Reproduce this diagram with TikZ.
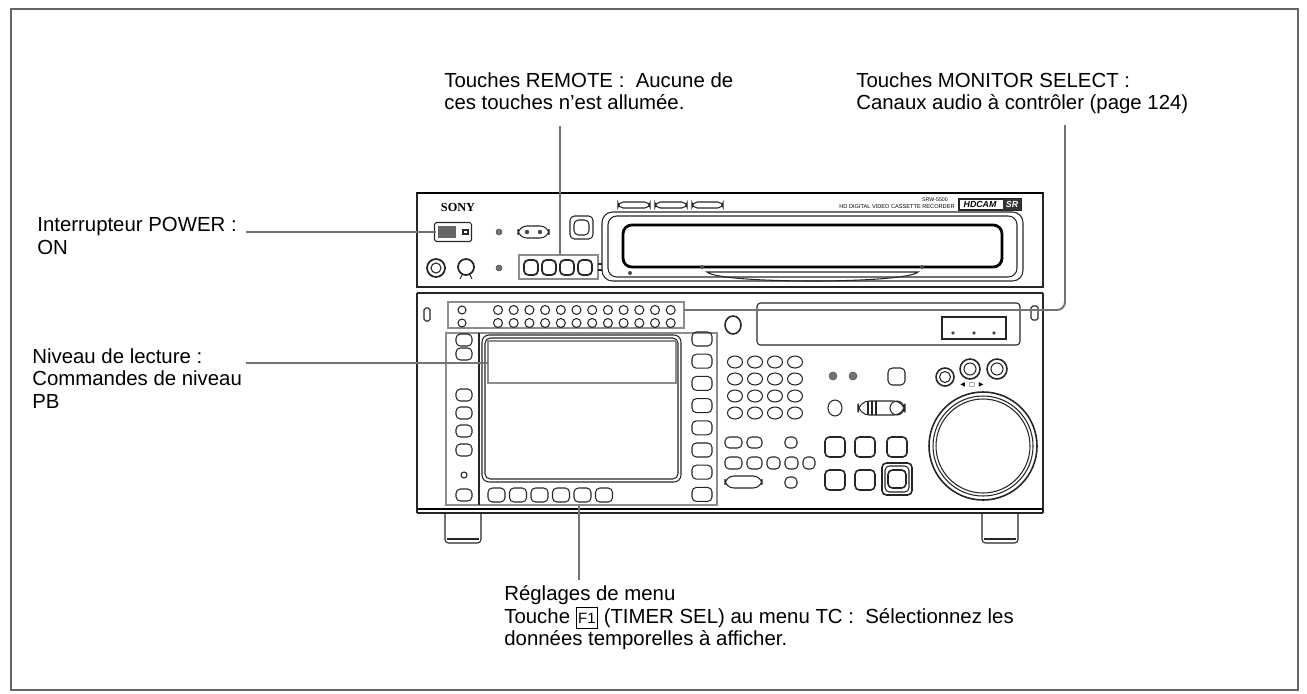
\documentclass[tikz,border=0pt]{standalone}
\usepackage{fontspec}
\setmainfont{Liberation Sans}
\newfontfamily\serifb{Liberation Serif}
\newfontfamily\dejavu{DejaVu Sans}
\begin{document}
\begin{tikzpicture}[x=0.02cm,y=-0.02cm,
  lbl/.style={anchor=north west,inner sep=0pt,align=left,font=\fontsize{11.6}{12.9}\selectfont},
  lead/.style={draw=black!55,line width=1.1pt},
  dev/.style={draw=black!85,line width=0.6pt},
  hi/.style={draw=black!45,line width=1.2pt},
  btn/.style={dev,rounded corners=2.5pt},
  dotf/.style={fill=black!55,draw=black!70,line width=0.3pt}]
\useasboundingbox (0,0) rectangle (1307,693);
\draw[draw=black!60,line width=0.8pt] (11,9) rectangle (1298,690);

% ---------- labels ----------
\node[lbl] (lremote) at (444,72) {Touches REMOTE :\ \ Aucune de\\ces touches n'est allumée.};
\node[lbl] (lmon) at (856,72) {Touches MONITOR SELECT :\\Canaux audio à contrôler (page 124)};
\node[lbl] (lpow) at (37,217) {Interrupteur POWER :\\ON};
\node[lbl] (lniv) at (32,348) {Niveau de lecture :\\Commandes de niveau\\PB};
\node[lbl] (lmenu) at (504,585) {Réglages de menu\\Touche \fbox{\fontsize{8.5}{8}\selectfont\kern-2pt F1\kern-2pt} (TIMER SEL) au menu TC :\ \ Sélectionnez les\\données temporelles à afficher.};

% ---------- upper unit ----------
\draw[dev] (417,193) rectangle (1043,287);
\draw[draw=black,line width=1.4pt] (417,193) -- (1043,193);
\draw[dev] (417,293) -- (1043,293);
\node[font=\serifb\bfseries\fontsize{7}{7}\selectfont,inner sep=0] (sony) at (458,207) {SONY};
\node[draw=black!85,line width=0.6pt,minimum width=37*0.02cm,minimum height=19*0.02cm,inner sep=0,rounded corners=1pt] (pwr) at (453,232) {};
\fill[black!60] (438,226) rectangle (456,238);
\draw[dev] (463,230) rectangle (468,234);
\draw[dotf] (499,232) circle (3);
\draw[dev,rounded corners=5pt] (518,226) rectangle (549,238);
\fill[black!70] (527,232) circle (2.2) (540,232) circle (2.2);
\draw[btn] (570,216) rectangle (593,239);
\draw[btn] (574,220) rectangle (589,235);
\foreach \a/\b in {618/650,655/687,692/723} \draw[dev,rounded corners=3pt] (\a,202) rectangle (\b,208);
\node[font=\fontsize{3}{3}\selectfont,inner sep=0] at (935,200) {SRW-5500};
\node[font=\fontsize{3.2}{3}\selectfont,inner sep=0] at (897,207) {HD DIGITAL VIDEO CASSETTE RECORDER};
\draw[dev] (959,199) rectangle (1021,210);
\fill[black!80] (1003,199) rectangle (1021,210);
\node[font=\itshape\bfseries\fontsize{5}{5}\selectfont,inner sep=0] at (980,204.5) {HDCAM};
\node[font=\itshape\bfseries\fontsize{5}{5}\selectfont,inner sep=0,text=white] at (1012,204.5) {SR};
% cassette window
\draw[dev,rounded corners=6pt] (602,212) rectangle (1023,281);
\draw[dev,rounded corners=5pt] (608,216) rectangle (1017,277);
\draw[draw=black,line width=1.6pt,rounded corners=5pt] (623,225) rectangle (1002,267);
\draw[dev] (707,272) .. controls (720,284) and (905,284) .. (918,272) -- cycle;
\fill[black!70] (630,273) circle (2) (702,267) circle (2) (922,267) circle (2);
% knobs
\draw[dev,line width=1pt] (436,268) circle (9); \draw[dev] (436,268) circle (5);
\draw[dev,line width=1pt] (466,267) circle (8); \draw[dev] (462,275) -- (460,279) (470,275) -- (472,279);
\draw[dotf] (499,268) circle (3);
\draw[hi] (519,255) rectangle (598,279);
\foreach \a in {531,549,567,585} \draw[btn,line width=1pt] (\a-7,260) rectangle (\a+7,275);
\draw[dev] (598,264) -- (602,264) (598,270) -- (602,270);

% ---------- lower unit ----------
\draw[dev] (417,293) -- (417,513) (1043,293) -- (1043,513);
\draw[draw=black,line width=1.2pt] (417,509) -- (1043,509);
\draw[dev] (417,513) -- (1043,513);
\foreach \a in {445,982} {\draw[dev,rounded corners=2pt] (\a,513) -- (\a,543) -- (\a+36,543) -- (\a+36,513); \draw[dev] (\a+2,539) -- (\a+34,539);}
\draw[dev,rounded corners=1pt] (424,308) rectangle (430,321);
\draw[dev,rounded corners=1pt] (1031,306) rectangle (1038,320);
\draw[hi] (448,302) rectangle (684,328);
\foreach \r in {310,323} {\draw[dev] (462,\r) circle (4);
  \foreach \k in {0,...,11} \draw[dev] (498+15.7*\k,\r) circle (4.5);}
\draw[dev,line width=0.9pt] (733,325) ellipse [x radius=8,y radius=9];
\draw[dev,rounded corners=2pt] (757,303) rectangle (1020,345);
\draw[dev] (942,317) rectangle (1006,339);
\foreach \a in {953,974,994} \fill[black!70] (\a,333) circle (1.8);
% screen block
\draw[hi] (446,333) rectangle (717,505);
\draw[dev] (479,333) -- (479,505);
\draw[dev,rounded corners=4pt] (482,335) rectangle (681,482);
\draw[dev,rounded corners=3pt] (485,338) rectangle (678,479);
\draw[hi] (488,341) rectangle (676,383);
\foreach \c in {340,354,395,413,431,450,495} \draw[btn] (456,\c-6) rectangle (472,\c+6);
\draw[dev] (464,475) circle (3);
\foreach \k in {0,...,5} \draw[btn] (488+21.5*\k,488) rectangle (505+21.5*\k,502);
\foreach \k in {0,...,7} \draw[btn] (692,332+22.2*\k) rectangle (712,346+22.2*\k);
% keypad
\foreach \y in {362,379,396,413} \foreach \x in {735,755,775,795} \draw[dev] (\x,\y) ellipse [x radius=7.5,y radius=6];
\draw[dotf] (833,376) circle (4); \draw[dotf] (853,376) circle (4);
\draw[btn] (888,368) rectangle (905,385);
\draw[dev] (835,408) ellipse [x radius=7,y radius=8];
\draw[dev,rounded corners=6.5pt] (858,401) rectangle (905,415);
\draw[dev] (868,401) -- (868,415) (872,401) -- (872,415) (876,401) -- (876,415);
\draw[dev] (897,408) ellipse [x radius=7,y radius=7];
% lower buttons
\draw[btn] (725,437) rectangle (742,448); \draw[btn] (747,437) rectangle (762,448); \draw[btn] (785,437) rectangle (797,448);
\foreach \a/\b in {725/742,747/762,767/780,785/798,803/815} \draw[btn] (\a,457) rectangle (\b,469);
\draw[dev,rounded corners=5pt] (725,476) rectangle (762,488); \draw[btn] (785,477) rectangle (797,488);
\foreach \a in {825,855,887} \draw[btn,line width=0.9pt] (\a,437) rectangle (\a+20,457);
\foreach \a in {825,855} \draw[btn,line width=0.9pt] (\a,470) rectangle (\a+20,490);
\draw[btn,line width=0.9pt] (882,463) rectangle (912,495);
\draw[btn] (885,466) rectangle (909,492);
\draw[btn,line width=0.9pt] (888,470) rectangle (906,488);
% jog
\draw[dev,line width=0.9pt] (945,377) circle (9); \draw[dev,line width=0.9pt] (970,369) circle (10); \draw[dev,line width=0.9pt] (997,369) circle (10);
\draw[dev] (945,377) circle (5.5); \draw[dev] (970,369) circle (6); \draw[dev] (997,369) circle (6);
\node[font=\dejavu\fontsize{3.5}{3}\selectfont,inner sep=0] at (972,385) {◀\ \ □\ \ ▶};
\draw[dev,line width=0.9pt] (983,446) circle (54);
\draw[dev] (983,446) circle (50);
\draw[dev] (983,446) circle (47);

% ---------- leaders ----------
\coordinate (eremote) at (560,255);
\coordinate (emon) at (684,310);
\coordinate (epow) at (436,232);
\coordinate (eniv) at (488,363);
\coordinate (emenu) at (579,505);
\draw[lead] (560,126) -- (eremote);
\draw[lead] (1065,125) -- (1065,302) arc (0:90:8) -- (emon);
\draw[lead] (246,232) -- (epow);
\draw[lead] (246,363) -- (eniv);
\draw[lead] (579,580) -- (emenu);
\end{tikzpicture}
\end{document}
